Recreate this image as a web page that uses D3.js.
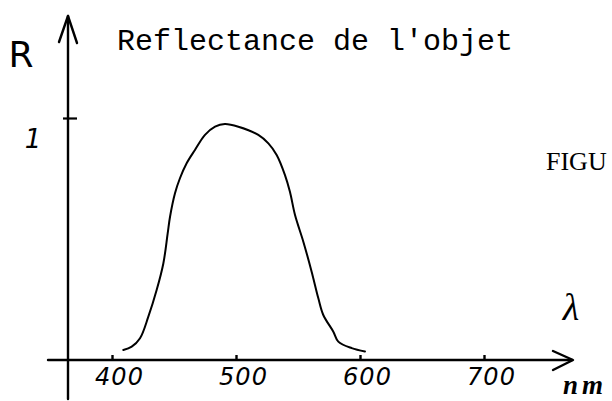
<!DOCTYPE html>
<html>
<head>
<meta charset="utf-8">
<script src="https://cdn.jsdelivr.net/npm/d3@7"></script>
<style>
  body { margin: 0; background: #fff; }
  svg { display: block; }
  .axis-line { stroke: #000; stroke-width: 2.4; fill: none; stroke-linecap: round; stroke-linejoin: round; }
  .curve { stroke: #000; stroke-width: 2; fill: none; stroke-linejoin: round; stroke-linecap: round; }
  .hand { font-family: "DejaVu Sans", sans-serif; fill: #000; }
</style>
</head>
<body>
<svg width="612" height="401"></svg>
<script>
// Reflectance curve
const wavelength = [409.1, 415.9, 422.6, 429.3, 436, 441.4, 444.9, 446.8, 450.8, 454.8, 460.2, 466.9, 475, 483.1, 491, 501.9, 518, 526.1, 532.8, 539.5, 543.5, 547.6, 554.3, 561, 566.4, 570.4, 578.5, 582.5, 593.3, 604];
const reflectance = [0.041, 0.055, 0.09, 0.179, 0.289, 0.399, 0.523, 0.592, 0.689, 0.751, 0.813, 0.868, 0.93, 0.964, 0.975, 0.964, 0.93, 0.895, 0.847, 0.764, 0.695, 0.599, 0.489, 0.365, 0.255, 0.186, 0.117, 0.076, 0.049, 0.035];
const xTicks = [400, 500, 600, 700];
const xTickLabels = ["400", "500", "600", "700"];
const yTicks = [1];
const yTickLabels = ["1"];

const svg = d3.select("svg"), width = +svg.attr("width"),
    height = +svg.attr("height");

const x = d3.scaleLinear().domain([400, 700]).range([112, 484]);
const y = d3.scaleLinear().domain([0, 1]).range([360, 118]);

drawAxes();
drawCurve();
drawLabels();

/////////////HELPERS//////////////////

function drawAxes() {
    const g = svg.append("g").attr("class", "axes");
    // vertical axis with open arrow head
    g.append("path").attr("class", "axis-line")
        .attr("d", d3.line()([[68, 399], [68, 16]]));
    g.append("path").attr("class", "axis-line")
        .attr("d", d3.line()([[59, 42], [68, 16], [77, 43]]));
    // horizontal axis with open arrow head
    g.append("path").attr("class", "axis-line")
        .attr("d", d3.line()([[48, y(0)], [572, y(0)]]));
    g.append("path").attr("class", "axis-line")
        .attr("d", d3.line()([[553, 351], [573, y(0)], [553, 370]]));

    const xAxis = d3.axisBottom(x).tickValues(xTicks)
        .tickSize(6).tickFormat((d, i) => xTickLabels[i]);
    const xg = g.append("g").attr("transform", `translate(0,${y(0) - 5})`).call(xAxis);
    xg.select(".domain").remove();
    xg.selectAll(".tick line").attr("stroke", "#000").attr("stroke-width", 2.4);
    xg.selectAll(".tick text")
        .attr("y", 30)
        .attr("dy", 0)
        .attr("dx", 7)
        .attr("class", "hand")
        .style("font-size", "24px")
        .style("font-style", "italic")
        .style("font-weight", "300")
        .style("letter-spacing", "1px");

    const yAxis = d3.axisLeft(y).tickValues(yTicks)
        .tickSize(14).tickFormat((d, i) => yTickLabels[i]);
    const yg = g.append("g").attr("transform", "translate(77,0)").call(yAxis);
    yg.select(".domain").remove();
    yg.selectAll(".tick line").attr("stroke", "#000").attr("stroke-width", 2.2);
    yg.selectAll(".tick text")
        .attr("x", -44)
        .attr("dy", 0)
        .attr("y", 29)
        .attr("text-anchor", "middle")
        .attr("class", "hand")
        .style("font-size", "26px")
        .style("font-style", "italic");
}

function drawCurve() {
    const pts = wavelength.map((w, i) => [w, reflectance[i]]);
    const line = d3.line()
        .x(d => x(d[0]))
        .y(d => y(d[1]))
        .curve(d3.curveCatmullRom.alpha(0.5));
    svg.append("path").attr("class", "curve").attr("d", line(pts));
}

function drawLabels() {
    svg.append("text")
        .attr("x", 117).attr("y", 50)
        .style("font-family", "'Liberation Mono', monospace")
        .style("font-size", "30px")
        .text("Reflectance de l'objet");

    svg.append("text").attr("class", "hand")
        .attr("x", 21).attr("y", 67)
        .attr("text-anchor", "middle")
        .style("font-size", "36px")
        .text("R");

    svg.append("text")
        .attr("x", 571).attr("y", 320)
        .attr("text-anchor", "middle")
        .style("font-family", "'Liberation Serif', serif")
        .style("font-style", "italic")
        .style("font-size", "38px")
        .text("λ");

    svg.append("text")
        .attr("x", 563).attr("y", 394)
        .style("font-family", "'Liberation Serif', serif")
        .style("font-style", "italic")
        .style("font-weight", "bold")
        .style("font-size", "27px")
        .style("letter-spacing", "4px")
        .text("nm");

    svg.append("text")
        .attr("x", 546).attr("y", 170)
        .style("font-family", "'Liberation Serif', serif")
        .style("font-size", "26px")
        .text("FIGU");
}
</script>
</body>
</html>
